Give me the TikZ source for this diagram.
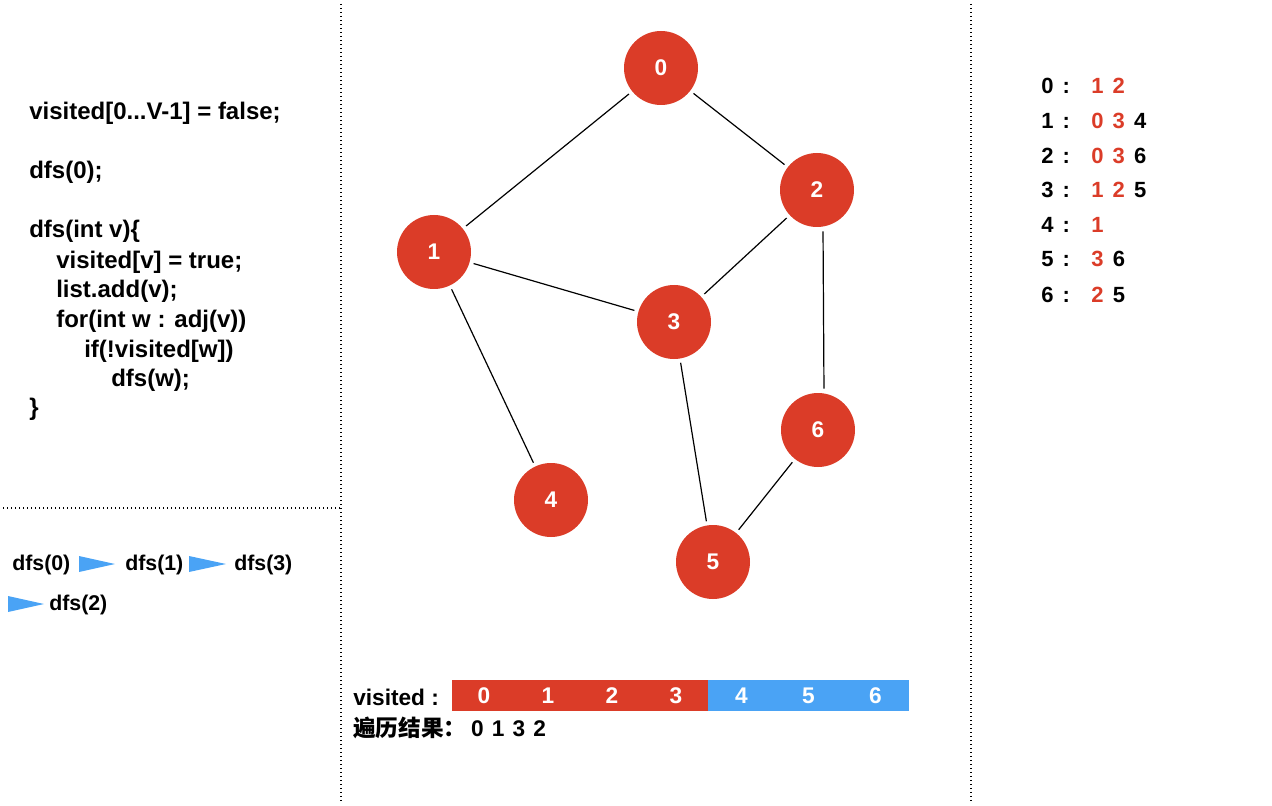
\documentclass[tikz,border=0pt]{standalone}
\usepackage{fontspec}
\setmainfont{Liberation Sans}
\newfontfamily\cjk{Noto Sans CJK SC}
\usetikzlibrary{positioning}
\definecolor{nred}{RGB}{219,60,40}
\definecolor{nblue}{RGB}{74,163,245}
\newcommand{\dsep}{\hspace{0.42em}}

\begin{document}
\begin{tikzpicture}[
  x=0.75pt, y=-0.75pt,
  vtx/.style={circle, fill=nred, minimum size=55.5pt, inner sep=0pt,
              text=white, font=\fontsize{17}{20}\selectfont\bfseries},
  edge/.style={line width=0.9pt, shorten <=3pt, shorten >=3pt},
  code/.style={anchor=base west, inner sep=0pt, font=\fontsize{18}{21}\selectfont\bfseries},
  call/.style={anchor=base west, inner sep=0pt, font=\fontsize{16}{19}\selectfont\bfseries},
  tri/.style={fill=nblue},
  sep/.style={line width=1.1pt, dash pattern=on 1.1pt off 1.9pt},
  lbl/.style={anchor=base west, inner sep=0pt, font=\fontsize{17}{20}\selectfont\bfseries},
  cellr/.style={fill=nred, minimum width=48pt, minimum height=23.25pt, inner sep=0pt,
                text=white, font=\fontsize{17}{20}\selectfont\bfseries},
  cellb/.style={cellr, fill=nblue, minimum width=50.25pt},
  adj/.style={anchor=base west, inner sep=0pt, font=\fontsize{16.5}{19}\selectfont\bfseries}
]
\useasboundingbox (0,0) rectangle (1272,806);

% panel borders
\draw[sep] (341,4) -- (341,802);
\draw[sep] (971,4) -- (971,802);
\draw[sep] (3,508) -- (341,508);

% pseudo code
\node[code] (l1) at (29,120) {visited[0...V-1] = false;};
\node[code] (l2) at (29,179) {dfs(0);};
\node[code] (l3) at (29,238) {dfs(int v)\{};
\node[code] (l4) at (56,268) {visited[v] = true;};
\node[code] (l5) at (56,297) {list.add(v);};
\node[code] (l6) at (56,327) {for(int w : adj(v))};
\node[code] (l7) at (84,357) {if(!visited[w])};
\node[code] (l8) at (111,386) {dfs(w);};
\node[code] (l9) at (29,415) {\}};

% call order
\node[call] (o0) at (12,570)  {dfs(0)};
\node[call] (o1) at (125,570) {dfs(1)};
\node[call] (o3) at (234,570) {dfs(3)};
\node[call] (o2) at (49,610)  {dfs(2)};
\fill[tri] (79,556) -- (115,564) -- (79,572) -- cycle;
\fill[tri] (189,556) -- (226,564) -- (189,572) -- cycle;
\fill[tri] (8,596) -- (44,604) -- (8,612) -- cycle;

% graph
\node[vtx] (n0) at (661,68)  {0};
\node[vtx] (n1) at (434,252) {1};
\node[vtx] (n2) at (817,190) {2};
\node[vtx] (n3) at (674,322) {3};
\node[vtx] (n4) at (551,500) {4};
\node[vtx] (n5) at (713,562) {5};
\node[vtx] (n6) at (818,430) {6};

\draw[edge] (n0) -- (n1);
\draw[edge] (n0) -- (n2);
\draw[edge] (n1) -- (n3);
\draw[edge] (n1) -- (n4);
\draw[edge] (n2) -- (n3);
\draw[edge] ([xshift=4.5pt]n2.south) -- ([xshift=4.5pt]n6.north);
\draw[edge] (n3) -- (n5);
\draw[edge] (n6) -- (n5);

% visited array
\node[lbl] (vis) at (353,705) {visited :};
\node[cellr] (c0) at (484,695.5) {0};
\node[cellr] (c1) at (548,695.5) {1};
\node[cellr] (c2) at (612,695.5) {2};
\node[cellr] (c3) at (676,695.5) {3};
\node[cellb] (c4) at (741.5,695.5) {4};
\node[cellb] (c5) at (808.5,695.5) {5};
\node[cellb] (c6) at (875.5,695.5) {6};
\node[lbl] (res) at (353,736) {{\cjk\bfseries 遍历结果：}\hspace{0.2em}0\hspace{0.36em}1\hspace{0.36em}3\hspace{0.36em}2};

% adjacency list
\node[adj] (k0) at (1041,94)  {0\dsep:};
\node[adj] (k1) at (1041,129) {1\dsep:};
\node[adj] (k2) at (1041,164) {2\dsep:};
\node[adj] (k3) at (1041,198) {3\dsep:};
\node[adj] (k4) at (1041,233) {4\dsep:};
\node[adj] (k5) at (1041,267) {5\dsep:};
\node[adj] (k6) at (1041,302) {6\dsep:};
\node[adj] (a0) at (1091,94)  {\textcolor{nred}{1\dsep2}};
\node[adj] (a1) at (1091,129) {\textcolor{nred}{0\dsep3}\dsep4};
\node[adj] (a2) at (1091,164) {\textcolor{nred}{0\dsep3}\dsep6};
\node[adj] (a3) at (1091,198) {\textcolor{nred}{1\dsep2}\dsep5};
\node[adj] (a4) at (1091,233) {\textcolor{nred}{1}};
\node[adj] (a5) at (1091,267) {\textcolor{nred}{3}\dsep6};
\node[adj] (a6) at (1091,302) {\textcolor{nred}{2}\dsep5};
\end{tikzpicture}
\end{document}
